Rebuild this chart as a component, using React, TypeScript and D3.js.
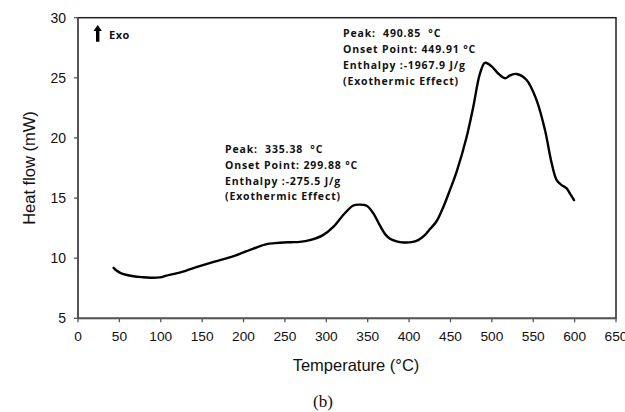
import React from "react";
import * as d3 from "d3";

const temperature = [43, 47, 51, 58, 67, 77, 87, 99, 107, 115, 130, 147, 165, 188, 212, 228, 238, 248, 258, 268, 280, 296, 308.5, 320.5, 332.6, 340, 348.8, 356.8, 364.9, 371, 377, 385, 393, 403, 411, 418, 425, 433, 441, 449, 457.5, 469.6, 477.6, 485.7, 491.7, 499.8, 507, 515.9, 522, 530, 542, 554, 564.2, 572.3, 578.3, 584, 590.4, 595, 599.3];
const heatFlow = [9.2, 8.95, 8.78, 8.62, 8.5, 8.42, 8.37, 8.4, 8.55, 8.67, 8.95, 9.34, 9.72, 10.17, 10.8, 11.17, 11.25, 11.31, 11.33, 11.36, 11.5, 11.92, 12.6, 13.59, 14.38, 14.45, 14.36, 13.73, 12.7, 12.0, 11.62, 11.4, 11.31, 11.33, 11.5, 11.85, 12.4, 13.05, 14.2, 15.6, 17.2, 20.1, 22.6, 25.37, 26.25, 25.95, 25.4, 24.96, 25.2, 25.32, 24.82, 23.15, 20.66, 17.89, 16.5, 16.1, 15.8, 15.3, 14.83];

const xTicks = [0, 50, 100, 150, 200, 250, 300, 350, 400, 450, 500, 550, 600, 650];
const yTicks = [5, 10, 15, 20, 25, 30];

const annotationLow = ["Peak:  335.38  °C", "Onset Point: 299.88 °C", "Enthalpy :-275.5 J/g", "(Exothermic Effect)"];
const annotationHigh = ["Peak:  490.85  °C", "Onset Point: 449.91 °C", "Enthalpy :-1967.9 J/g", "(Exothermic Effect)"];

export default function App() {
  const W = 625, H = 412;
  const left = 78, right = 616, top = 17.7, bottom = 318.3;
  const x = d3.scaleLinear().domain([0, 650]).range([left, right]);
  const y = d3.scaleLinear().domain([5, 30]).range([bottom, top]);
  const pts = temperature.map((t, i) => [t, heatFlow[i]] as [number, number]);
  const line = d3.line<[number, number]>().x(d => x(d[0])).y(d => y(d[1])).curve(d3.curveCatmullRom.alpha(0.5));
  const sans = "'Liberation Sans', Arial, sans-serif";
  const annFont = "'Open Sans', sans-serif";
  return (
    <svg width={W} height={H} style={{ position: "absolute", left: 0, top: 0, background: "#fff" }}>
      <rect x={0} y={0} width={W} height={H} fill="#fff" />
      <rect x={left} y={top} width={right - left} height={bottom - top} fill="none" stroke="#222" strokeWidth={1.5} />
      <line x1={left} y1={top} x2={left} y2={bottom} stroke="#555" strokeWidth={1.8} />
      <line x1={left} y1={bottom} x2={right} y2={bottom} stroke="#555" strokeWidth={1.8} />
      {yTicks.map(t => (
        <g key={"y" + t}>
          <line x1={left - 4} x2={left} y1={y(t)} y2={y(t)} stroke="#555" strokeWidth={1.3} />
          <text x={66} y={y(t) + 5} textAnchor="end" fontFamily={sans} fontSize={14} fill="#111">{t}</text>
        </g>
      ))}
      {xTicks.map(t => (
        <g key={"x" + t}>
          <line x1={x(t)} x2={x(t)} y1={bottom} y2={bottom + 4} stroke="#555" strokeWidth={1.3} />
          <text x={x(t)} y={341} textAnchor="middle" fontFamily={sans} fontSize={13.7} fill="#111">{t}</text>
        </g>
      ))}
      <text transform={`translate(35,${(top + bottom) / 2}) rotate(-90)`} textAnchor="middle" fontFamily={sans} fontSize={16.5} fill="#111">Heat flow (mW)</text>
      <text x={356} y={371} textAnchor="middle" fontFamily={sans} fontSize={16.5} fill="#111">Temperature (°C)</text>
      <text x={323} y={407} textAnchor="middle" fontFamily="'Liberation Serif', 'Times New Roman', serif" fontSize={17} fill="#111">(b)</text>
      <path d={line(pts) || ""} fill="none" stroke="#000" strokeWidth={2.4} strokeLinejoin="round" strokeLinecap="round" />
      <g>
        <path d="M97.7,25 L93.5,31 L96,31 L96,41.7 L99.4,41.7 L99.4,31 L101.9,31 Z" fill="#000" />
        <text x={109} y={39} fontFamily={annFont} fontWeight={700} fontSize={11} letterSpacing={0.5} fill="#111">Exo</text>
      </g>
      {annotationLow.map((s, i) => (
        <text key={"l" + i} x={225} y={153.3 + i * 15.6} fontFamily={annFont} fontWeight={700} fontSize={10.5} letterSpacing={0.85} fill="#111" style={{ whiteSpace: "pre" }}>{s}</text>
      ))}
      {annotationHigh.map((s, i) => (
        <text key={"h" + i} x={343} y={37 + i * 15.9} fontFamily={annFont} fontWeight={700} fontSize={10.5} letterSpacing={0.85} fill="#111" style={{ whiteSpace: "pre" }}>{s}</text>
      ))}
    </svg>
  );
}
